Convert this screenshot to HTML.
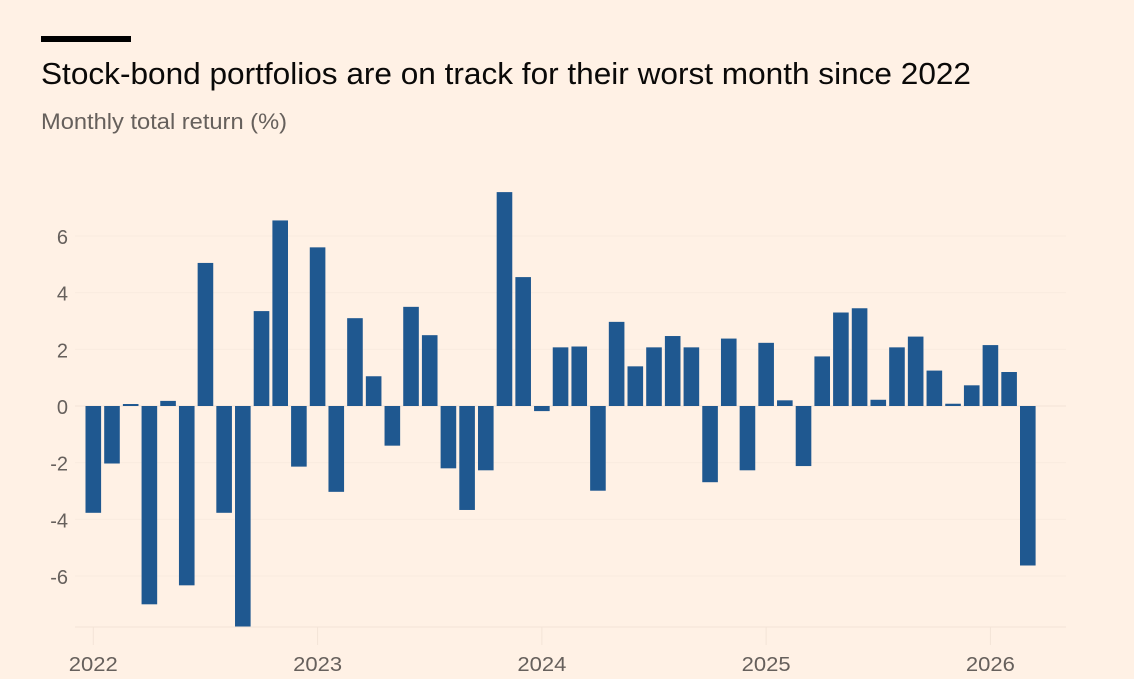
<!DOCTYPE html>
<html lang="en">
<head>
<meta charset="utf-8">
<title>Stock-bond portfolios</title>
<style>
html,body{margin:0;padding:0;background:#fff1e5;}
body{width:1134px;height:679px;overflow:hidden;position:relative;font-family:"Liberation Sans",sans-serif;}
svg{display:block;position:absolute;left:0;top:0;}
text{font-family:"Liberation Sans",sans-serif;}
</style>
</head>
<body>
<svg id="chart" width="1134" height="679" viewBox="0 0 1134 679">
  <rect x="0" y="0" width="1134" height="679" fill="#fff1e5"></rect>
  <rect x="41" y="36" width="90" height="6" fill="#000000"></rect>
  <text x="41" y="84" font-size="31" fill="#0a0908" textLength="930" lengthAdjust="spacingAndGlyphs">Stock-bond portfolios are on track for their worst month since 2022</text>
  <text x="41" y="129" font-size="22" fill="#66605c" textLength="246" lengthAdjust="spacingAndGlyphs">Monthly total return (%)</text>
  <g id="grid"></g>
  <g id="bars"></g>
  <g id="axes"></g>
</svg>
<script>
const monthlyReturns = [
  -3.77, -2.03, 0.07, -7.0, 0.18, -6.33, 5.05, -3.77, -7.8, 3.35, 6.55, -2.14,
  5.6, -3.03, 3.1, 1.05, -1.4, 3.5, 2.5, -2.2, -3.67, -2.27, 7.55, 4.55,
  -0.18, 2.07, 2.1, -2.99, 2.97, 1.4, 2.07, 2.47, 2.07, -2.69, 2.38, -2.27,
  2.23, 0.2, -2.12, 1.75, 3.3, 3.45, 0.22, 2.07, 2.45, 1.25, 0.08, 0.73,
  2.15, 1.2, -5.63
];
const yTicks = [6, 4, 2, 0, -2, -4, -6];
const yearLabels = ["2022", "2023", "2024", "2025", "2026"];
const yearStartIndex = [0, 12, 24, 36, 48];

const NS = "http://www.w3.org/2000/svg";
const plotLeft = 75, plotRight = 1066, plotBottom = 627;
const barWidth = 15.6;
function xScale(i) { return 93.3 + i * 18.69; }
function yScale(v) { return 406 - v * 28.33; }

function make(tag, attrs, parent) {
  const el = document.createElementNS(NS, tag);
  for (const k in attrs) el.setAttribute(k, attrs[k]);
  parent.appendChild(el);
  return el;
}

const gridG = document.getElementById("grid");
const barsG = document.getElementById("bars");
const axesG = document.getElementById("axes");

yTicks.forEach(function (t) {
  const line = make("line", { x1: plotLeft, x2: plotRight, y1: yScale(t), y2: yScale(t), stroke: t === 0 ? "#f3e4d7" : "#f9ebdf", "stroke-width": 1 }, gridG);
  
  
  const label = make("text", { x: 68, y: yScale(t) + 8, "text-anchor": "end", "font-size": 20, fill: "#66605c" }, axesG);
  label.textContent = String(t);
  
  
});

monthlyReturns.forEach(function (v, i) {
  const y0 = yScale(0), y1 = yScale(v);
  const bar = make("rect", { x: xScale(i) - barWidth / 2, y: Math.min(y0, y1), width: barWidth, height: Math.abs(y1 - y0), fill: "#1f5890" }, barsG);
  
  
});

const baseline = make("line", { x1: plotLeft, x2: plotRight, y1: plotBottom, y2: plotBottom, stroke: "#f3e4d7", "stroke-width": 1 }, axesG);



yearLabels.forEach(function (lab, n) {
  const x = xScale(yearStartIndex[n]);
  const tick = make("line", { x1: x, x2: x, y1: plotBottom, y2: 645, stroke: "#f3e4d7", "stroke-width": 1 }, axesG);
  
  
  const label = make("text", { x: x, y: 671, "text-anchor": "middle", "font-size": 20, fill: "#66605c", textLength: 49, lengthAdjust: "spacingAndGlyphs" }, axesG);
  label.textContent = lab;
  
  
});
</script>
</body>
</html>
